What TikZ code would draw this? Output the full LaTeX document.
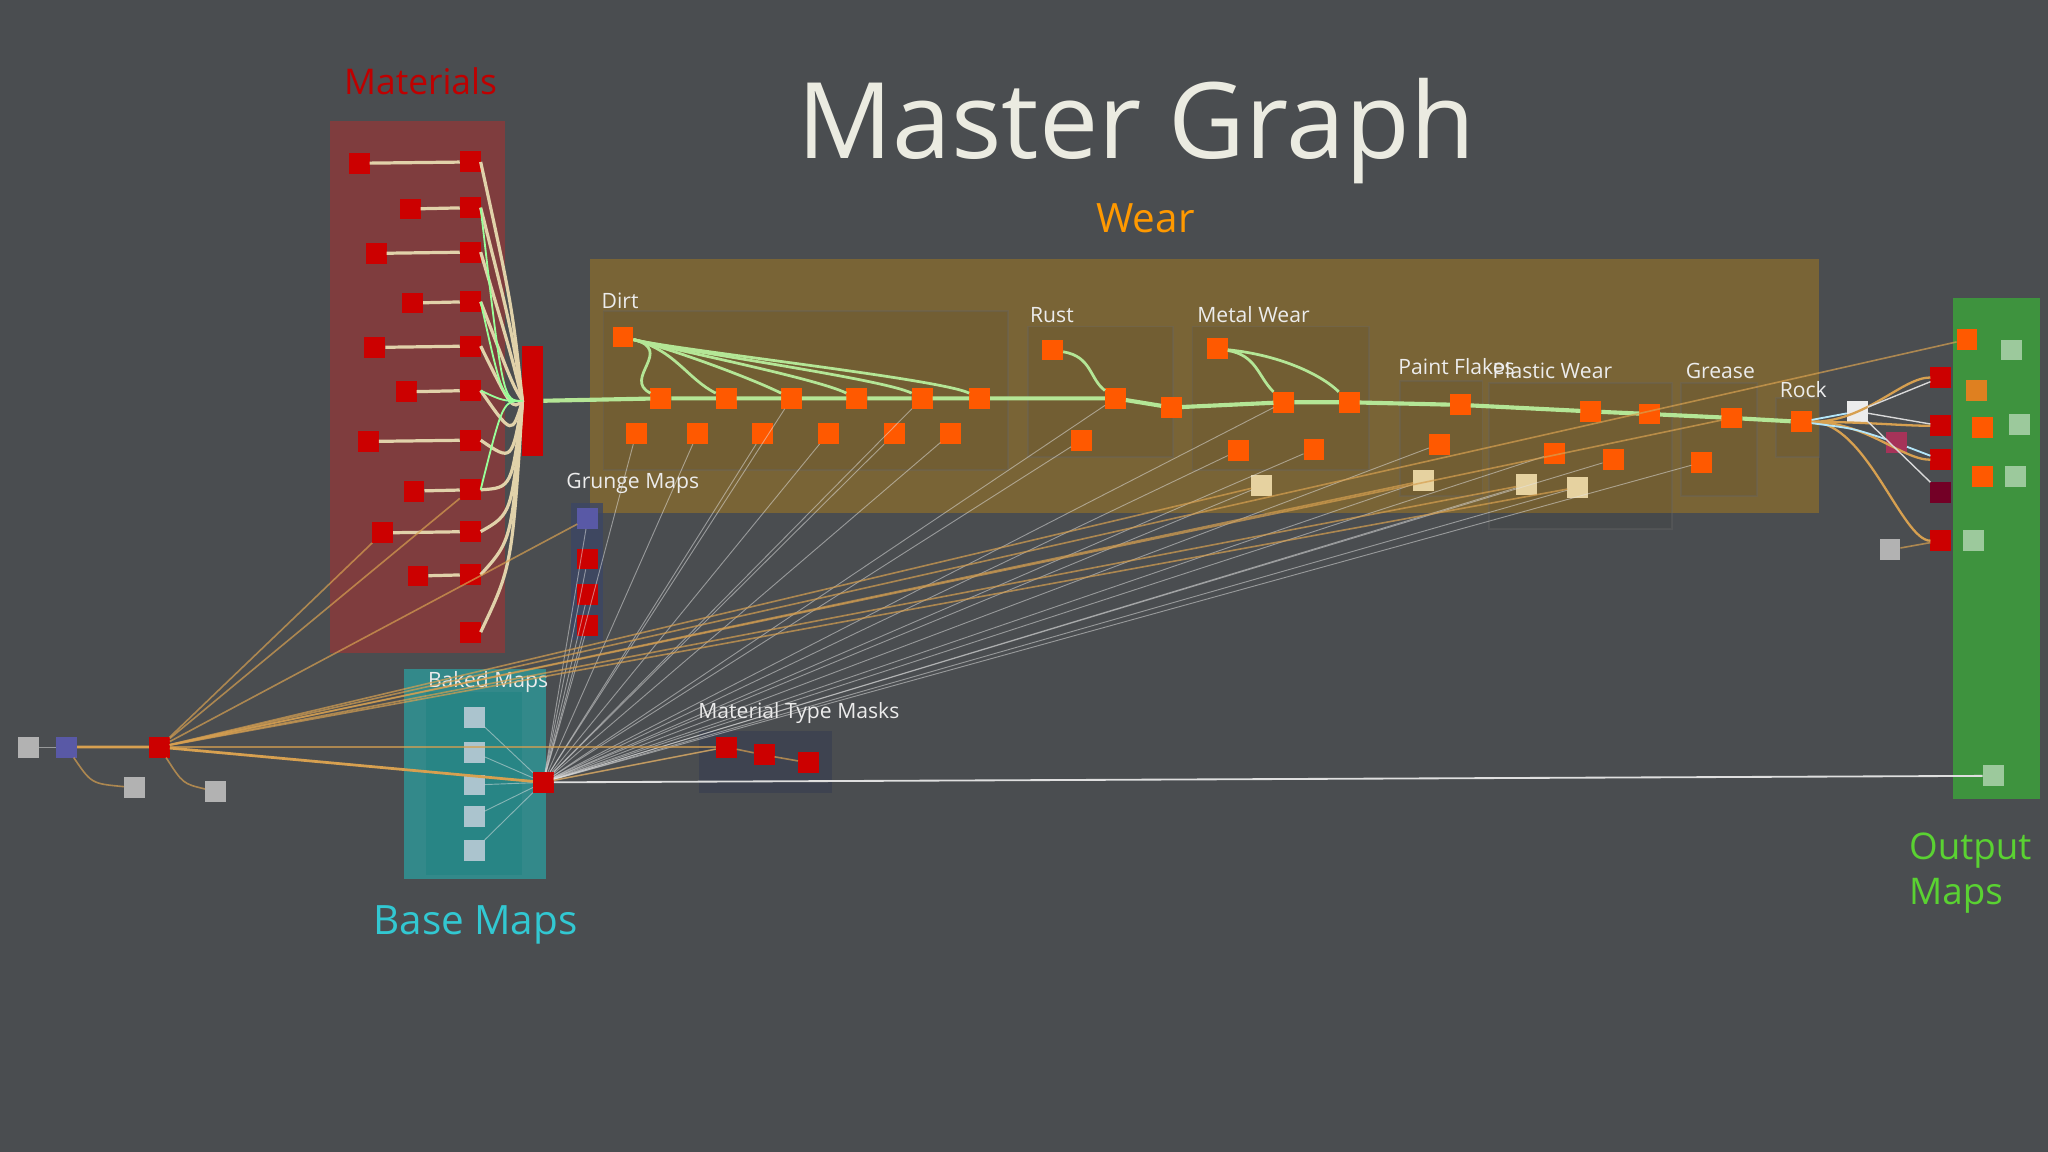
\documentclass[tikz,border=0pt]{standalone}
\usepackage{fontspec}
\setmainfont{Open Sans}
\definecolor{bg}{RGB}{74,77,80}
\definecolor{titlec}{RGB}{235,235,225}
\definecolor{matf}{RGB}{150,55,55}
\definecolor{wearf}{RGB}{130,105,50}
\definecolor{basef}{RGB}{40,170,170}
\definecolor{basef2}{RGB}{30,130,130}
\definecolor{basel}{RGB}{50,200,210}
\definecolor{outf}{RGB}{60,160,60}
\definecolor{outl}{RGB}{90,210,50}
\definecolor{grf}{RGB}{60,70,100}
\definecolor{mkf}{RGB}{60,65,80}
\definecolor{beige}{RGB}{230,210,160}
\definecolor{mainc}{RGB}{180,230,150}
\definecolor{creamc}{RGB}{225,210,170}
\definecolor{orl}{RGB}{215,160,80}
\begin{document}
\begin{tikzpicture}[x=0.01cm,y=-0.01cm,
  sq/.style={draw=none,minimum size=0.16cm,inner sep=0,outer sep=0},
  rn/.style={sq,fill=red!80!black},
  on/.style={sq,fill=orange!70!red},
  gn/.style={sq,fill=gray!60},
  bn/.style={sq,fill=blue!30!gray},
  cn/.style={sq,fill=cyan!30!gray!60!white},
  ln/.style={sq,fill=green!30!gray!60!white},
  be/.style={sq,fill=beige},
  lbl/.style={text=white!85!gray,font=\fontsize{4.6}{5}\selectfont,inner sep=0},
  mainw/.style={draw=mainc,line width=0.9pt},
  cream/.style={draw=creamc,line width=0.7pt},
  thin/.style={draw=white!80!gray,line width=0.2pt,opacity=0.5},
  ora/.style={draw=orl,line width=0.35pt,opacity=0.7}]
\fill[bg] (0,0) rectangle (1568,882);
\useasboundingbox (0,0) rectangle (1568,882);
\node[text=titlec,font=\fontsize{23}{26}\selectfont] (title) at (870,100) {Master Graph};
% frames
\fill[matf,opacity=0.7] (253,93) rectangle (387,500);
\node[text=red!75!black,font=\fontsize{7.7}{9}\selectfont] (matl) at (322,62) {Materials};
\fill[wearf,opacity=0.85] (452,198) rectangle (1393,393);
\node[text=orange!80!yellow,font=\fontsize{8.8}{10}\selectfont] (wearl) at (877,167) {Wear};
\foreach \a/\b/\c/\d in {462/238/772/360,787/250/898/350,913/250/1048/360,1072/292/1135/380,1140/293/1280/405,1287/293/1345/380,1360/305/1393/350}
  \draw[black!60,opacity=0.35,fill=black,fill opacity=0.05] (\a,\b) rectangle (\c,\d);
\node[lbl,anchor=west] (ldirt) at (460,230) {Dirt};
\node[lbl,anchor=west] (lrust) at (788,241) {Rust};
\node[lbl,anchor=west] (lmetal) at (916,241) {Metal Wear};
\node[lbl,anchor=west] (lpaint) at (1070,281) {Paint Flakes};
\node[lbl,anchor=west] (lplast) at (1142,284) {Plastic Wear};
\node[lbl,anchor=west] (lgrease) at (1290,284) {Grease};
\node[lbl,anchor=west] (lrock) at (1362,298) {Rock};
\fill[basef,opacity=0.65] (309,512) rectangle (418,673);
\fill[basef2,opacity=0.5] (326,530) rectangle (400,670);
\node[lbl,anchor=west] (lbaked) at (327,522) {Baked Maps};
\node[text=basel,font=\fontsize{8.8}{10}\selectfont] (lbase) at (364,708) {Base Maps};
\fill[outf,opacity=0.85] (1495,228) rectangle (1562,612);
\node[text=outl,font=\fontsize{8}{9.8}\selectfont,align=left,anchor=north west,inner sep=0] (lout) at (1461,637) {Output\\Maps};
\fill[grf,opacity=0.8] (437,385) rectangle (462,490);
\node[lbl,anchor=west] (lgrunge) at (433,370) {Grunge Maps};
\fill[mkf,opacity=0.8] (535,560) rectangle (637,607);
\node[lbl,anchor=west] (lmask) at (534,546) {Material Type Masks};
% left nodes
\node[gn] (l1) at (22,572) {};
\node[bn] (l2) at (51,572) {};
\node[gn] (l3) at (103,603) {};
\node[rn] (l4) at (122,572) {};
\node[gn] (l5) at (165,606) {};
% base maps
\foreach \i/\y in {1/549,2/576,3/601,4/625,5/651} \node[cn] (b\i) at (363,\y) {};
\node[rn] (bm) at (416,599) {};
% grunge
\node[bn] (g0) at (450,397) {};
\foreach \i/\y in {1/428,2/455,3/479} \node[rn] (g\i) at (450,\y) {};
% masks
\node[rn] (m1) at (556,572) {}; \node[rn] (m2) at (585,578) {}; \node[rn] (m3) at (619,584) {};
% materials
\foreach \i/\xa/\y in {1/275/125,2/314/160,3/288/194,4/316/232,5/287/266,6/311/300,7/282/338,8/317/376,9/293/408,10/320/441}{
  \node[rn] (ma\i) at (\xa,\y) {};
  \node[rn] (mb\i) at (360,\y-1) {};
  \draw[cream] (ma\i) -- (mb\i);}
\node[rn] (mb11) at (360,484) {};
\node[rn,minimum width=0.16cm,minimum height=0.84cm] (blend) at (408,307) {};
\foreach \i in {1,...,11} \draw[cream] (mb\i.east) .. controls (392,{(\i*40+120+307)/2}) .. (blend.west);
\foreach \i in {2,4,6,8} \draw[draw=green!40!white,line width=0.4pt] (mb\i.east) .. controls (385,307) .. (blend.west);
% wear chain
\foreach \n/\x/\y in {c1/506/305,c2/556/305,c3/606/305,c4/656/305,c5/706/305,c6/750/305,c7/854/305,c8/897/312,c9/983/308,c10/1033/308,c11/1118/310,c12/1218/315,c13/1263/317,c14/1326/320,c15/1379/323}
  \node[on] (\n) at (\x,\y) {};
\draw[mainw] (blend) -- (c1) -- (c2) -- (c3) -- (c4) -- (c5) -- (c6) -- (c7) -- (c8) -- (c9) -- (c10) -- (c11) -- (c12) -- (c13) -- (c14) -- (c15);
\node[on] (dsrc) at (477,258) {};
\foreach \n in {c1,c2,c3,c4,c5,c6} {\draw[mainw,line width=0.6pt] (dsrc) .. controls +(40,10) and +(-30,-15) .. (\n);}
\foreach \i/\x in {1/487,2/534,3/584,4/634,5/685,6/728} \node[on] (d\i) at (\x,332) {};
\node[on] (rsrc) at (806,268) {};
\draw[mainw,line width=0.6pt] (rsrc) .. controls +(30,5) and +(-20,-15) .. (c7);
\node[on] (r1) at (828,337) {};
\node[on] (msrc) at (932,267) {};
\draw[mainw,line width=0.6pt] (msrc) .. controls +(30,5) and +(-20,-20) .. (c9);
\draw[mainw,line width=0.6pt] (msrc) .. controls +(50,5) and +(-20,-20) .. (c10);
\node[on] (mw1) at (948,345) {}; \node[on] (mw2) at (1006,344) {};
\node[on] (p1) at (1102,340) {};
\node[be] (p2) at (966,372) {}; \node[be] (p3) at (1090,368) {};
\node[on] (pl1) at (1190,347) {}; \node[on] (pl2) at (1235,352) {};
\node[be] (pl3) at (1169,371) {}; \node[be] (pl4) at (1208,373) {};
\node[on] (gr1) at (1303,354) {};
% output
\node[on] (o1) at (1506,260) {}; \node[ln] (o2) at (1540,268) {};
\node[rn] (o3) at (1486,289) {}; \node[sq,fill=orange!50!brown] (o4) at (1513,299) {};
\node[rn] (o5) at (1486,326) {}; \node[on] (o6) at (1518,327) {}; \node[ln] (o7) at (1546,325) {};
\node[rn] (o8) at (1486,352) {}; \node[sq,fill=purple!60!black] (o9) at (1486,377) {};
\node[on] (o10) at (1518,365) {}; \node[ln] (o11) at (1543,365) {};
\node[rn] (o12) at (1486,414) {}; \node[ln] (o13) at (1511,414) {};
\node[ln] (o14) at (1526,594) {};
\node[sq,fill=white!85!gray] (x1) at (1422,315) {};
\node[sq,fill=purple!60!gray] (x2) at (1452,339) {};
\node[gn] (x3) at (1447,421) {};
\foreach \n in {o3,o5,o8,o12} \draw[ora,opacity=1,line width=0.5pt] (c15) .. controls +(50,0) and +(-30,0) .. (\n);
\draw[draw=cyan!30!white,line width=0.4pt] (c15) -- (x1);
\draw[draw=cyan!30!white,line width=0.4pt] (c15) .. controls +(40,5) .. (x2) -- (o8);
\draw[ora] (x3) -- (o12);
\foreach \n in {o3,o5,o9} \draw[draw=white!70!gray,line width=0.3pt] (x1) -- (\n);
% fan lines
\foreach \n in {d1,d2,d3,d4,d5,d6,r1,mw1,mw2,p1,pl1,pl2,gr1,g0,g1,g2,g3,m1,p2,p3,pl3,pl4,c3,c5,c7,c9}
  \draw[thin] (bm) -- (\n);
\foreach \i in {1,...,5} \draw[thin] (b\i) -- (bm);
\draw[draw=white!75!gray,line width=0.4pt] (bm) -- (o14);
\draw[draw=orl,line width=0.6pt] (l2) -- (l4) -- (bm);
\draw[thin] (l1) -- (l2);
\draw[ora] (l2) .. controls (70,600) .. (l3);
\draw[ora] (l4) .. controls (140,600) .. (l5);
\foreach \n in {o1,p3,pl3,pl4,p2,g0,ma9,mb8,m1,c14} \draw[ora] (l4) -- (\n);
\draw[ora] (bm) -- (m1) -- (m2) -- (m3);
\end{tikzpicture}
\end{document}
